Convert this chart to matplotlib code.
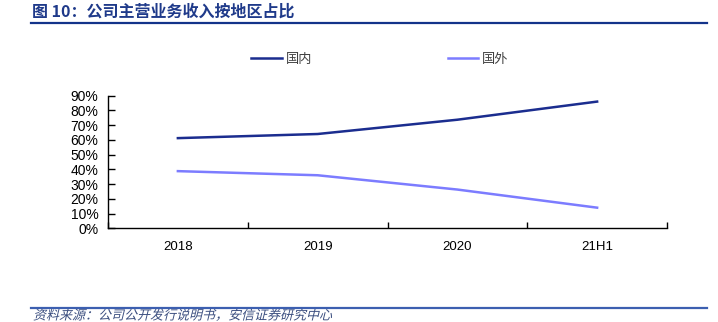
import numpy as np
import matplotlib
matplotlib.use('Agg')
import matplotlib.pyplot as plt
from matplotlib.lines import Line2D
from matplotlib.patches import PathPatch
from matplotlib.textpath import TextPath
from matplotlib.font_manager import FontProperties
from matplotlib.transforms import Affine2D
from matplotlib.ticker import FixedLocator, PercentFormatter

plt.rcParams['font.family'] = ['Liberation Sans', 'Noto Sans CJK SC', 'DejaVu Sans']

# 公司主营业务收入按地区占比
periods = ['2018', '2019', '2020', '21H1']
domestic = [61.2, 64.0, 73.7, 86.0]
overseas = [38.8, 36.0, 26.3, 14.0]

title = '图 10：公司主营业务收入按地区占比'
source = '资料来源：公司公开发行说明书，安信证券研究中心'

c_dom = '#1b2d8f'
c_ovs = '#7c7cff'
c_title = '#1f3a8a'

fig = plt.figure(figsize=(7.18, 3.22), dpi=100)
ax = fig.add_axes([108/718, 1-228.3/322, (667-108)/718, (228.3-95.7)/322])

x = np.arange(len(periods))
ax.plot(x, domestic, color=c_dom, lw=1.8, label='国内')
ax.plot(x, overseas, color=c_ovs, lw=1.8, label='国外')

ax.set_xlim(-0.5, len(periods)-0.5)
ax.set_ylim(0, 90)
ax.yaxis.set_major_locator(FixedLocator(np.arange(0, 91, 10)))
ax.yaxis.set_major_formatter(PercentFormatter(decimals=0))

# 分隔刻度在类别之间，标签居中
ax.xaxis.set_major_locator(FixedLocator(np.arange(-0.5, len(periods), 1)))
ax.xaxis.set_minor_locator(FixedLocator(x))
ax.set_xticklabels([], minor=False)
ax.set_xticklabels(periods, minor=True)
ax.tick_params(axis='x', which='major', direction='in', length=4, width=1)
ax.tick_params(axis='x', which='minor', length=0, pad=9, labelsize=9.5)
ax.tick_params(axis='y', direction='in', length=5, width=1, pad=7, labelsize=10)

for s in ['top', 'right']:
    ax.spines[s].set_visible(False)
for s in ['left', 'bottom']:
    ax.spines[s].set_linewidth(1)

leg = ax.legend(ncol=2, loc='center', bbox_to_anchor=(380/718, 1-59/322),
                bbox_transform=fig.transFigure, frameon=False,
                handlelength=2.3, columnspacing=10.3, handletextpad=0.3,
                prop={'family': ['Noto Sans CJK SC'], 'size': 9.5})
for t in leg.get_texts():
    t.set_color('#404040')

# 标题及分隔线
fig.text(32/718, 1-12/322, title, fontsize=11.5, fontweight='bold', color=c_title,
         va='center', ha='left', family=['Noto Sans CJK SC', 'DejaVu Sans'])
fig.add_artist(Line2D([31/718, 707/718], [1-23/322]*2, color='#13338a', lw=1.6))
fig.add_artist(Line2D([31/718, 707/718], [1-307.7/322]*2, color='#3c5fb0', lw=1.6))

# 来源说明用斜体（CJK字体无斜体，手动倾斜字形路径）
src_path = TextPath((0, 0), source, size=13,
                    prop=FontProperties(family='Noto Sans CJK SC'))
src_patch = PathPatch(src_path, facecolor='#3c4f80', edgecolor='none',
                      transform=Affine2D().skew_deg(14, 0).translate(33, 2.5))
fig.add_artist(src_patch)

fig.savefig('out.png', dpi=100)
